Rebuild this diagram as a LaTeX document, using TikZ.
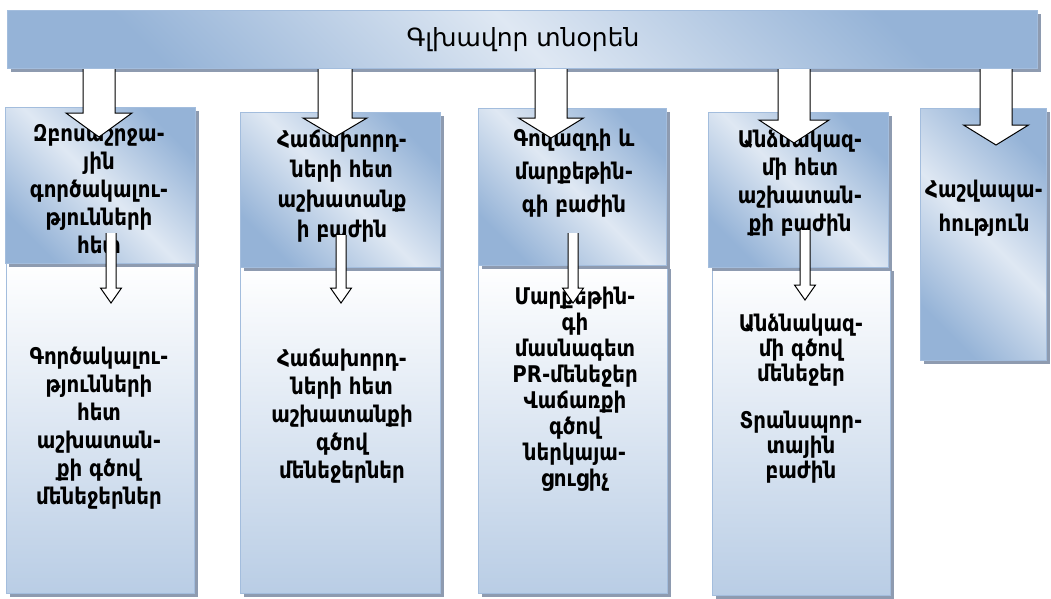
\documentclass[tikz,border=0pt]{standalone}
\usepackage{fontspec}
\setmainfont{DejaVu Sans}[FakeStretch=0.86]
\newfontfamily\barfont{DejaVu Sans}
\usetikzlibrary{shadows}
\definecolor{bdark}{HTML}{95B3D7}
\definecolor{blight}{HTML}{DFE8F3}
\definecolor{bbot}{HTML}{B9CDE5}
\definecolor{bline}{HTML}{A3BDDD}
\definecolor{shadowc}{HTML}{8E9BB0}
\tikzset{
  boxshadow/.style={drop shadow={shadow xshift=3pt,shadow yshift=-3pt,fill=shadowc,opacity=1}},
  diagbox/.style={rectangle,draw=bline,line width=1pt,inner sep=0pt,anchor=north west,
     top color=bdark,bottom color=bdark,middle color=blight,shading angle=-45,boxshadow},
  vertbox/.style={rectangle,draw=bline,line width=1pt,inner sep=0pt,anchor=north west,
     top color=white,bottom color=bbot,boxshadow},
  lbl/.style={align=center,inner sep=0pt,font=\fontsize{23}{28}\selectfont\bfseries},
  blockarrow/.style={draw=black,fill=white,line width=1pt,line join=miter}
}
\newcommand\blockarr[6]{%
  \pgfmathsetmacro\xa{#2-#5}\pgfmathsetmacro\xb{#2+#5}%
  \pgfmathsetmacro\xc{#2-#6}\pgfmathsetmacro\xd{#2+#6}%
  \draw[blockarrow] (\xa,0 |- #1) -- (\xa,#3) -- (\xc,#3) -- (#2,#4) -- (\xd,#3) -- (\xb,#3) -- (\xb,0 |- #1);}
\begin{document}
\begin{tikzpicture}[x=1pt,y=-1pt]
\useasboundingbox (0,0) rectangle (1051,598);
% top bar
\node[diagbox,minimum width=1030pt,minimum height=58pt] (bar) at (7,10) {};
\node[font=\barfont\fontsize{25}{30}\selectfont] (bartext) at (523,40) {Գլխավոր տնօրեն};
% lower boxes
\node[vertbox,minimum width=188pt,minimum height=330pt] (b1) at (6,263) {};
\node[vertbox,minimum width=200pt,minimum height=326pt] (b2) at (240,267) {};
\node[vertbox,minimum width=189pt,minimum height=328pt] (b3) at (478,265) {};
\node[vertbox,minimum width=178pt,minimum height=328pt] (b4) at (712,267) {};
% upper boxes
\node[diagbox,minimum width=190pt,minimum height=156pt] (t1) at (5,107) {};
\node[diagbox,minimum width=200pt,minimum height=155pt] (t2) at (240,112) {};
\node[diagbox,minimum width=188pt,minimum height=157pt] (t3) at (478,108) {};
\node[diagbox,minimum width=180pt,minimum height=155pt] (t4) at (708,112) {};
\node[diagbox,minimum width=126pt,minimum height=252pt] (t5) at (920,108) {};
% texts
\node[lbl] (t1t) at (99,189) {Զբոսաշրջա-\\յին\\գործակալու-\\թյունների\\հետ};
\node[lbl,font=\fontsize{23}{30}\selectfont\bfseries] (t2t) at (342,186) {Հաճախորդ-\\ների հետ\\աշխատանք\\ի բաժին};
\node[lbl,font=\fontsize{23}{33}\selectfont\bfseries] (t3t) at (574,173) {Գովազդի և\\մարքեթին-\\գի բաժին};
\node[lbl] (t4t) at (800,183) {Անձնակազ-\\մի հետ\\աշխատան-\\քի բաժին};
\node[lbl,font=\fontsize{23}{34}\selectfont\bfseries] (t5t) at (984,208) {Հաշվապա-\\հություն};
\node[lbl] (b1t) at (99,428) {Գործակալու-\\թյունների\\հետ\\աշխատան-\\քի գծով\\մենեջերներ};
\node[lbl] (b2t) at (342,416) {Հաճախորդ-\\ների հետ\\աշխատանքի\\գծով\\մենեջերներ};
\node[lbl,font=\fontsize{23}{26}\selectfont\bfseries] (b3t) at (575,389) {Մարքեթին-\\գի\\մասնագետ\\PR-մենեջեր\\Վաճառքի\\գծով\\ներկայա-\\ցուցիչ};
\node[lbl,font=\fontsize{23}{25}\selectfont\bfseries] (b4t) at (801,399) {Անձնակազ-\\մի գծով\\մենեջեր\\[22pt]Տրանսպոր-\\տային\\բաժին};
% big arrows from the top bar
\blockarr{bar.south}{99}{113}{137}{16}{33}
\blockarr{bar.south}{335}{118}{137}{17}{32}
\blockarr{bar.south}{551}{118}{138}{16}{32.5}
\blockarr{bar.south}{794}{120}{143}{16}{35}
\blockarr{bar.south}{996}{125}{145}{16}{32.5}
% small arrows from upper to lower boxes
\coordinate (s1) at (111,233);
\coordinate (s2) at (341,235);
\coordinate (s3) at (573,233);
\coordinate (s4) at (805,230);
\blockarr{s1}{111}{288}{303}{5}{10.5}
\blockarr{s2}{341}{288}{303}{5}{10.5}
\blockarr{s3}{573}{288}{303}{5}{10.5}
\blockarr{s4}{805}{285}{300}{5}{10.5}
\end{tikzpicture}
\end{document}
